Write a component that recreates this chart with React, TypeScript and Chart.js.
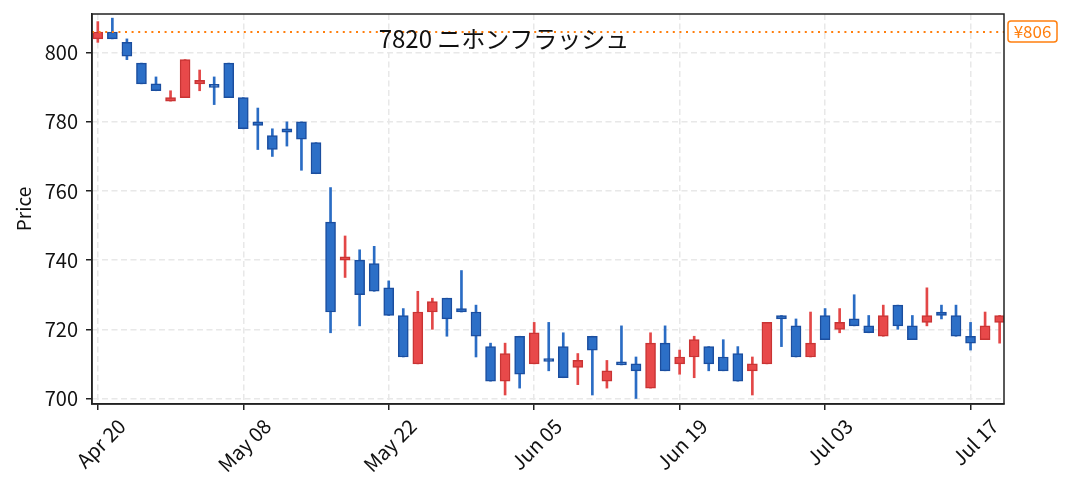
import { useEffect, useRef } from "react";

import { Chart, registerables } from "chart.js";

Chart.register(...registerables);

// trading days, 2020 (Tokyo calendar)
const DATES = [
  "Apr 20", "Apr 21", "Apr 22", "Apr 23", "Apr 24", "Apr 27", "Apr 28", "Apr 30", "May 01", "May 07",
  "May 08", "May 11", "May 12", "May 13", "May 14", "May 15", "May 18", "May 19", "May 20", "May 21",
  "May 22", "May 25", "May 26", "May 27", "May 28", "May 29", "Jun 01", "Jun 02", "Jun 03", "Jun 04",
  "Jun 05", "Jun 08", "Jun 09", "Jun 10", "Jun 11", "Jun 12", "Jun 15", "Jun 16", "Jun 17", "Jun 18",
  "Jun 19", "Jun 22", "Jun 23", "Jun 24", "Jun 25", "Jun 26", "Jun 29", "Jun 30", "Jul 01", "Jul 02",
  "Jul 03", "Jul 06", "Jul 07", "Jul 08", "Jul 09", "Jul 10", "Jul 13", "Jul 14", "Jul 15", "Jul 16",
  "Jul 17", "Jul 20", "Jul 21"
];

const OPEN = [
  804, 806, 803, 797, 791, 786, 787, 791, 790.3, 797,
  787, 780, 776, 778, 780, 774, 751, 740, 740, 739,
  732, 724, 710, 725, 729, 726, 725, 715, 705, 718,
  710, 711, 715, 709, 718, 705, 710, 710, 703, 716,
  710, 712, 715, 712, 713, 708, 710, 724, 721, 712,
  724, 720, 723, 721, 718, 727, 721, 722, 725, 724,
  718, 717, 722
];
const HIGH = [
  809, 810, 804, 797, 793, 789, 798, 795, 793, 797,
  787, 784, 778, 780, 780, 774, 761, 747, 743, 744,
  734, 726, 731, 729, 729, 737, 727, 716, 716, 718,
  722, 722, 719, 713, 718, 711, 721, 712, 719, 721,
  714, 718, 715, 717, 715, 712, 722, 724, 723, 725,
  726, 726, 730, 724, 727, 727, 724, 732, 727, 727,
  722, 725, 724
];
const LOW = [
  803, 804, 798, 791, 789, 786, 787, 789, 785, 787,
  778, 772, 770, 773, 766, 765, 719, 735, 721, 731,
  724, 712, 710, 720, 718, 725, 712, 705, 701, 703,
  710, 708, 706, 704, 701, 703, 709.7, 700, 703, 708,
  707, 706, 708, 708, 705, 701, 710, 715, 712, 712,
  717, 719, 721, 719, 718, 720, 717, 721, 723, 718,
  714, 717, 716
];
const CLOSE = [
  806, 804, 799, 791, 789, 787, 798, 792, 790, 787,
  778, 779, 772, 777, 775, 765, 725, 741, 730, 731,
  724, 712, 725, 728, 723, 725, 718, 705, 713, 707,
  719, 710.7, 706, 711, 714, 708, 709.7, 708, 716, 708,
  712, 717, 710, 708, 705, 710, 722, 723, 712, 716,
  717, 722, 721, 719, 724, 721, 717, 724, 724, 718,
  716, 721, 724
];

const X_TICKS = [0, 10, 20, 30, 40, 50, 60];
const Y_TICKS = [700, 720, 740, 760, 780, 800];
const LAST_PRICE = 806;
const TITLE = "7820 ニホンフラッシュ";

const UP_FILL = "#e8494a";
const UP_EDGE = "#c93434";
const UP_WICK = "#e34747";
const DOWN_FILL = "#2c6fc7";
const DOWN_EDGE = "#1b4e9f";
const DOWN_WICK = "#2a6cc4";
const ORANGE = "#ff7f0e";
const FONT = '"Noto Sans CJK JP", "Noto Sans", sans-serif';

const overlay = {
  id: "overlay",
  afterDatasetsDraw(chart: any) {
    const { ctx, chartArea, scales } = chart;
    ctx.save();
    ctx.strokeStyle = "#222";
    ctx.lineWidth = 1.5;
    ctx.strokeRect(chartArea.left, chartArea.top, chartArea.right - chartArea.left, chartArea.bottom - chartArea.top);

    ctx.fillStyle = "#111";
    ctx.font = `24px ${FONT}`;
    ctx.textAlign = "center";
    ctx.textBaseline = "middle";
    ctx.fillText(TITLE, 504, 39);

    // last price tag
    const y = scales.y.getPixelForValue(LAST_PRICE);
    const x0 = chartArea.right + 4;
    ctx.fillStyle = "#fff";
    ctx.strokeStyle = ORANGE;
    ctx.lineWidth = 1.5;
    ctx.beginPath();
    ctx.roundRect(x0, y - 11, 49, 21, 3);
    ctx.fill();
    ctx.stroke();
    ctx.fillStyle = ORANGE;
    ctx.font = `17px ${FONT}`;
    ctx.fillText(`¥${LAST_PRICE}`, x0 + 24.5, y);
    ctx.restore();
  }
};

export default function App() {
  const canvasRef = useRef<HTMLCanvasElement>(null);
  const chartRef = useRef<Chart | null>(null);

  useEffect(() => {
    document.body.style.margin = "0";
    if (!canvasRef.current) return;
    const context = canvasRef.current.getContext("2d");
    if (!context) return;

    if (chartRef.current) {
      chartRef.current.destroy();
    }

    const up = OPEN.map((o, i) => CLOSE[i] >= o);

    chartRef.current = new Chart(context, {
      type: "bar",
      data: {
        datasets: [
          {
            type: "line",
            data: [
              { x: -0.4, y: LAST_PRICE },
              { x: 62.3, y: LAST_PRICE }
            ],
            borderColor: ORANGE,
            borderWidth: 2,
            borderDash: [2, 4.6],
            pointRadius: 0,
            order: 0
          },
          {
            data: OPEN.map((o, i) => ({ x: i, y: [o, CLOSE[i]] })),
            backgroundColor: up.map((u) => (u ? UP_FILL : DOWN_FILL)),
            borderColor: up.map((u) => (u ? UP_EDGE : DOWN_EDGE)),
            borderWidth: 1.5,
            borderSkipped: false,
            barThickness: 10,
            minBarLength: 3,
            grouped: false,
            order: 1
          },
          {
            data: LOW.map((l, i) => ({ x: i, y: [l, HIGH[i]] })),
            backgroundColor: up.map((u) => (u ? UP_WICK : DOWN_WICK)),
            borderWidth: 0,
            barThickness: 2,
            grouped: false,
            order: 2
          }
        ] as any
      },
      options: {
        animation: false,
        responsive: false,
        layout: { padding: { top: 14, right: 65, left: 0, bottom: 0 } },
        plugins: {
          legend: { display: false },
          tooltip: { enabled: false }
        },
        scales: {
          x: {
            type: "linear",
            min: -0.4,
            max: 62.3,
            offset: false,
            afterBuildTicks: (axis: any) => {
              axis.ticks = X_TICKS.map((v) => ({ value: v }));
            },
            afterFit: (axis: any) => {
              axis.height = 88;
              axis.paddingLeft = 0;
              axis.paddingRight = 0;
            },
            ticks: {
              callback: (v: any) => DATES[v] ?? "",
              minRotation: 45,
              maxRotation: 45,
              labelOffset: 24,
              padding: 4,
              color: "#111",
              font: { family: FONT, size: 20 }
            },
            grid: {
              color: "#e8e8e8",
              lineWidth: 1.5,
              offset: false,
              tickColor: "#222",
              tickLength: 6,
              tickWidth: 1.5,
              tickBorderDash: []
            },
            border: { display: true, color: "#222", width: 1.5, dash: [6, 3.5] }
          },
          y: {
            min: 698.4,
            max: 811.2,
            afterBuildTicks: (axis: any) => {
              axis.ticks = Y_TICKS.map((v) => ({ value: v }));
            },
            afterFit: (axis: any) => {
              axis.width = 92;
              axis.paddingTop = 0;
              axis.paddingBottom = 0;
            },
            ticks: {
              padding: 8,
              color: "#111",
              font: { family: FONT, size: 20 }
            },
            title: {
              display: true,
              text: "Price",
              color: "#111",
              font: { family: FONT, size: 19 },
              padding: { top: 12, bottom: 0 }
            },
            grid: {
              color: "#e8e8e8",
              lineWidth: 1.5,
              tickColor: "#222",
              tickLength: 6,
              tickWidth: 1.5,
              tickBorderDash: []
            },
            border: { display: true, color: "#222", width: 1.5, dash: [6, 3.5] }
          }
        }
      },
      plugins: [overlay]
    });

    return () => {
      chartRef.current?.destroy();
      chartRef.current = null;
    };
  }, []);

  return <canvas ref={canvasRef} width={1069} height={492} />;
}
